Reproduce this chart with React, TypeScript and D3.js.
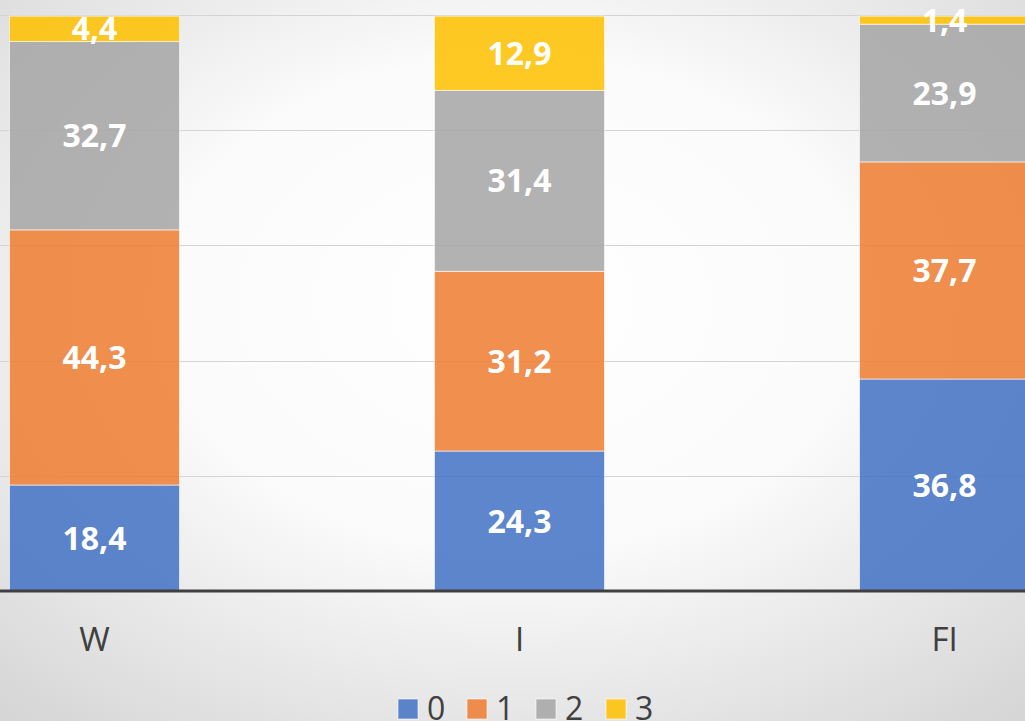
import React from "react";
import * as d3 from "d3";

const categories = ["W", "I", "FI"];
const seriesNames = ["0", "1", "2", "3"];
const series0 = [18.4, 24.3, 36.8];
const series1 = [44.3, 31.2, 37.7];
const series2 = [32.7, 31.4, 23.9];
const series3 = [4.4, 12.9, 1.4];
const gridTicks = [20, 40, 60, 80, 100];

const colors = ["#4472C4", "#ED7D31", "#A5A5A5", "#FFC000"];

const W = 1025;
const H = 721;

export default function App() {
  const seriesValues = [series0, series1, series2, series3];
  const rows = categories.map((c, i) => {
    const r: any = { cat: c };
    seriesNames.forEach((s, k) => (r[s] = seriesValues[k][i]));
    return r;
  });
  const stacked = d3.stack<any>().keys(seriesNames)(rows);

  const x = d3
    .scaleBand<string>()
    .domain(categories)
    .range([-118, 1157])
    .paddingInner(0.6)
    .paddingOuter(0.3);
  const y = d3.scaleLinear().domain([0, 100]).range([591, 15]);

  const fmt = (v: number) => v.toFixed(1).replace(".", ",");
  const font = "'Open Sans', 'DejaVu Sans', sans-serif";

  const legendX = [398, 467, 536, 606];

  return (
    <svg
      width={W}
      height={H}
      style={{ position: "absolute", left: 0, top: 0, display: "block" }}
    >
      <defs>
        <radialGradient id="bg" cx="50%" cy="42%" r="75%">
          <stop offset="0%" stopColor="#FFFFFF" />
          <stop offset="45%" stopColor="#FBFBFB" />
          <stop offset="100%" stopColor="#D6D6D6" />
        </radialGradient>
      </defs>
      <rect x={0} y={0} width={W} height={H} fill="url(#bg)" />
      {gridTicks.map((t) => (
        <line
          key={t}
          x1={0}
          x2={W}
          y1={Math.round(y(t)) + 0.5}
          y2={Math.round(y(t)) + 0.5}
          stroke="#D4D4D4"
          strokeWidth={1}
        />
      ))}
      {stacked.map((s, k) => (
        <g key={s.key}>
          {s.map((d, i) => {
            const x0 = x(categories[i]) as number;
            const top = y(d[1]);
            const bot = y(d[0]);
            return (
              <rect
                key={i}
                x={x0}
                y={top}
                width={x.bandwidth()}
                height={bot - top}
                fill={colors[k]}
                fillOpacity={0.86}
                stroke="#FFFFFF"
                strokeOpacity={0.6}
                strokeWidth={1}
              />
            );
          })}
        </g>
      ))}
      {stacked.map((s, k) => (
        <g key={"l" + s.key}>
          {s.map((d, i) => {
            const cx = (x(categories[i]) as number) + x.bandwidth() / 2;
            const cy = (y(d[0]) + y(d[1])) / 2;
            return (
              <text
                key={i}
                x={cx}
                y={cy}
                dy="0.36em"
                textAnchor="middle"
                fill="#FFFFFF"
                fontFamily={font}
                fontWeight={700}
                fontSize={32}
              >
                {fmt(seriesValues[k][i])}
              </text>
            );
          })}
        </g>
      ))}
      <line x1={0} x2={W} y1={591} y2={591} stroke="#404040" strokeWidth={3} />
      {categories.map((c) => (
        <text
          key={c}
          x={(x(c) as number) + x.bandwidth() / 2}
          y={651}
          textAnchor="middle"
          fill="#404040"
          fontFamily={font}
          fontSize={33}
        >
          {c}
        </text>
      ))}
      {seriesNames.map((s, k) => (
        <g key={"lg" + s}>
          <rect
            x={legendX[k]}
            y={699}
            width={20}
            height={20}
            fill={colors[k]}
            fillOpacity={0.86}
            stroke="#FFFFFF"
            strokeOpacity={0.6}
          />
          <text
            x={legendX[k] + 29}
            y={720}
            fill="#404040"
            fontFamily={font}
            fontSize={32}
          >
            {s}
          </text>
        </g>
      ))}
    </svg>
  );
}
